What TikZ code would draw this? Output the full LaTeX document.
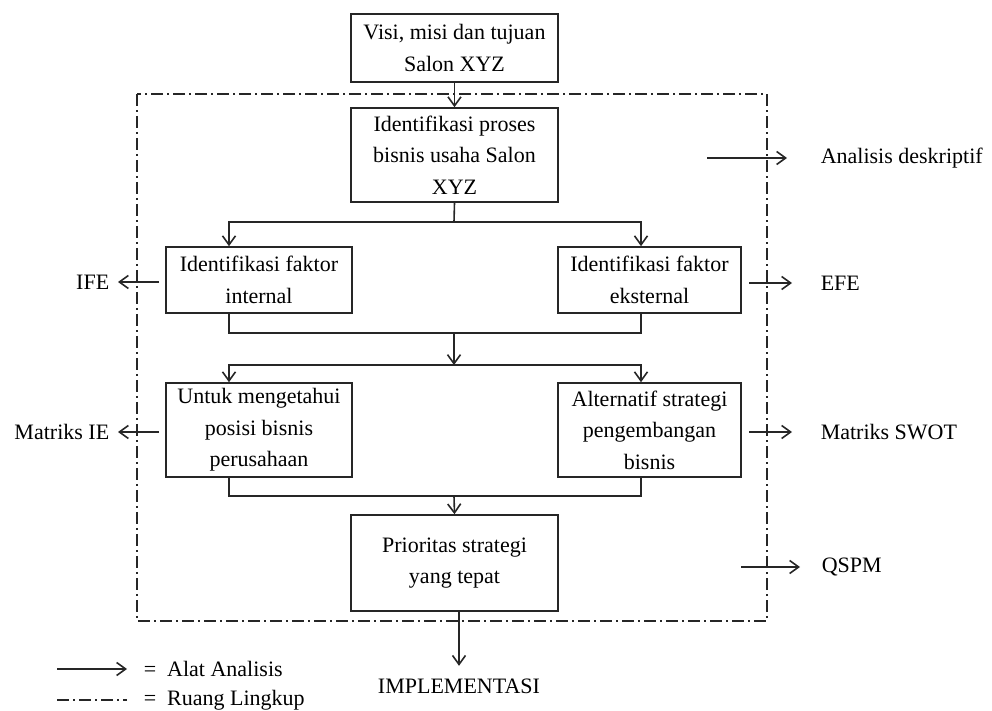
\documentclass[tikz,border=0pt]{standalone}
\usepackage{fontspec}
\setmainfont{Liberation Serif}
\usetikzlibrary{arrows.meta,calc}
\newcommand{\fsz}{\fontsize{11}{15.7}\selectfont}
\begin{document}
\begin{tikzpicture}[x=0.5pt,y=-0.5pt,
  line width=0.8pt, draw=black!85,
  box/.style={draw, line width=0.8pt, align=center, inner sep=0pt, font=\fsz},
  lbl/.style={inner sep=0pt, font=\fsz},
  arr/.style={-{Straight Barb[length=4.5pt,width=6.5pt]}},
  scopeline/.style={line width=0.7pt, dash pattern=on 6pt off 2pt on 1pt off 2pt}
]
\useasboundingbox (0,0) rectangle (992,711);

% scope (dash-dot) rectangle
\draw[scopeline] (137,94) rectangle (767,621);

% boxes
\node[box, minimum width=103.5pt, minimum height=34pt] (visi) at (454.5,48) {Visi, misi dan tujuan\\Salon XYZ};
\node[box, minimum width=103.5pt, minimum height=47pt] (proses) at (454.5,155) {Identifikasi proses\\bisnis usaha Salon\\XYZ};
\node[box, minimum width=93pt, minimum height=33pt] (internal) at (259,280) {Identifikasi faktor\\internal};
\node[box, minimum width=91.5pt, minimum height=33pt] (eksternal) at (649.5,280) {Identifikasi faktor\\eksternal};
\node[box, minimum width=93pt, minimum height=47pt] (posisi) at (259,430) {Untuk mengetahui\\posisi bisnis\\perusahaan};
\node[box, minimum width=91.5pt, minimum height=47pt] (alternatif) at (649.5,430) {Alternatif strategi\\pengembangan\\bisnis};
\node[box, minimum width=103.5pt, minimum height=48pt] (prioritas) at (454.5,563) {Prioritas strategi\\yang tepat};
\node[lbl] (impl) at (459,686) {IMPLEMENTASI};

% side labels
\node[lbl, anchor=west] (desk) at (820,158) {Analisis deskriptif};
\node[lbl, anchor=west] (efe) at (820,283) {EFE};
\node[lbl, anchor=west] (swot) at (820,432) {Matriks SWOT};
\node[lbl, anchor=west] (qspm) at (821,567) {QSPM};
\node[lbl, anchor=east] (ife) at (110,282) {IFE};
\node[lbl, anchor=east] (mie) at (110,432) {Matriks IE};

% helper coordinates
\coordinate (L) at (229,0);
\coordinate (R) at (641,0);
\coordinate (J1) at (454,222);
\coordinate (J2) at (454,333);
\coordinate (J3) at (454,365);
\coordinate (J4) at (454,496);

% main flow
\draw[arr] (visi.south) -- (proses.north);
\draw (proses.south) -- (J1);
\draw[arr] (J1) -| (internal.north -| L);
\draw[arr] (J1) -| (eksternal.north -| R);
\draw (internal.south -| L) |- (J2) -| (eksternal.south -| R);
\draw[arr] (J2) -- (J3);
\draw[arr] (J3) -| (posisi.north -| L);
\draw[arr] (J3) -| (alternatif.north -| R);
\draw (posisi.south -| L) |- (J4) -| (alternatif.south -| R);
\draw[arr] (J4) -- (prioritas.north);
\draw[arr, shorten >=6pt] (prioritas.south -| impl) -- (impl.north);

% analysis tool arrows
\coordinate (sdesk) at (707,158);
\coordinate (sefe) at (749,283);
\coordinate (sswot) at (749,432);
\coordinate (sqspm) at (741,567);
\coordinate (sife) at (159,282);
\coordinate (smie) at (159,432);
\draw[arr, shorten >=16.5pt] (sdesk) -- (desk.west);
\draw[arr, shorten >=14pt] (sefe) -- (efe.west);
\draw[arr, shorten >=14pt] (sswot) -- (swot.west);
\draw[arr, shorten >=10.5pt] (sqspm) -- (qspm.west);
\draw[arr, shorten >=4pt] (sife) -- (ife.east);
\draw[arr, shorten >=4pt] (smie) -- (mie.east);

% legend
\node[lbl, anchor=west] (alat) at (143,669) {=\ \ Alat Analisis};
\node[lbl, anchor=west] (ruang) at (143,700) {=\ \ Ruang Lingkup};
\coordinate (lg1) at (57,669);
\coordinate (lg2) at (57,700);
\draw[arr, shorten >=8pt] (lg1) -- (alat.west);
\draw[scopeline, shorten >=8pt] (lg2) -- (ruang.west);
\end{tikzpicture}
\end{document}
